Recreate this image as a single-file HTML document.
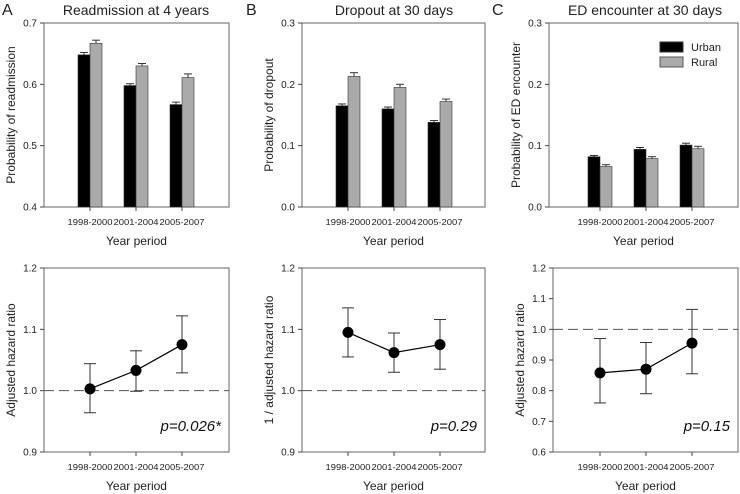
<!DOCTYPE html>
<html><head><meta charset="utf-8"><style>
body{margin:0;background:#fff}
svg{display:block;font-family:"Liberation Sans",Arial,sans-serif}
</style></head><body>
<svg id="chart" width="740" height="494" viewBox="0 0 740 494"></svg>
<script>
const categories = ["1998-2000","2001-2004","2005-2007"];
const aUrban = [0.648,0.598,0.567], aUrbanErr=[0.004,0.003,0.004];
const aRural = [0.667,0.630,0.611], aRuralErr=[0.005,0.004,0.006];
const bUrban = [0.165,0.160,0.138], bUrbanErr=[0.003,0.003,0.003];
const bRural = [0.213,0.195,0.172], bRuralErr=[0.006,0.005,0.004];
const cUrban = [0.082,0.094,0.101], cUrbanErr=[0.002,0.003,0.003];
const cRural = [0.066,0.079,0.095], cRuralErr=[0.003,0.003,0.004];
const aHR=[1.003,1.033,1.075], aLo=[0.964,0.999,1.029], aHi=[1.044,1.065,1.122];
const bHR=[1.095,1.062,1.075], bLo=[1.055,1.030,1.035], bHi=[1.135,1.094,1.116];
const cHR=[0.858,0.870,0.955], cLo=[0.760,0.790,0.855], cHi=[0.970,0.957,1.065];
const aTicks=["0.4","0.5","0.6","0.7"], bTicks=["0.0","0.1","0.2","0.3"], cTicks=["0.0","0.1","0.2","0.3"];
const hrTicksAB=["0.9","1.0","1.1","1.2"], hrTicksC=["0.6","0.7","0.8","0.9","1.0","1.1","1.2"];

const svg=document.getElementById('chart');
const NS='http://www.w3.org/2000/svg';
function el(tag,attrs,parent){const e=document.createElementNS(NS,tag);for(const k in attrs)e.setAttribute(k,attrs[k]);(parent||svg).appendChild(e);return e;}
function txt(x,y,s,size,anchor,parent,extra){const t=el('text',Object.assign({x:x,y:y,'font-size':size,'text-anchor':anchor||'middle',fill:'#222'},extra||{}),parent);t.textContent=s;return t;}

function frame(g,L,R,T,B,ticks,ymin,ymax,ylabel,xpos){
  const ys=v=>B-(v-ymin)/(ymax-ymin)*(B-T);
  el('rect',{x:L,y:T,width:R-L,height:B-T,fill:'none',stroke:'#666','stroke-width':1},g);
  ticks.forEach(t=>{const y=ys(+t);el('line',{x1:L-4,x2:L,y1:y,y2:y,stroke:'#444'},g);
    const lb=txt(L-7,y+3.5,t,10,'end',g);});
  xpos.forEach((x,i)=>{el('line',{x1:x,x2:x,y1:B,y2:B+4,stroke:'#444'},g);
    const lb=txt(x,B+18,categories[i],8.6,'middle',g,{textLength:45,lengthAdjust:'spacingAndGlyphs'});});
  const xt=txt((L+R)/2,B+38,'Year period',12,'middle',g);
  const yt=txt(0,0,ylabel,12,'middle',g,{transform:`translate(${L-29},${(T+B)/2}) rotate(-90)`});
  return ys;
}
function barPanel(name,L,R,ticks,urb,ue,rur,re,ylabel,xpos){
  const g=el('g',{});
  const T=23,B=207,ymin=+ticks[0],ymax=+ticks[ticks.length-1];
  const ys=frame(g,L,R,T,B,ticks,ymin,ymax,ylabel,xpos);
  xpos.forEach((x,i)=>{
    [[urb[i],ue[i],x-12,'#000','bar-urban'],[rur[i],re[i],x,'#aaa','bar-rural']].forEach(([v,e,bx,c,n])=>{
      el('line',{x1:bx+6,x2:bx+6,y1:ys(v),y2:ys(v+e),stroke:'#333'},g);
      el('line',{x1:bx+2,x2:bx+10,y1:ys(v+e),y2:ys(v+e),stroke:'#333'},g);
      const r=el('rect',{x:bx,y:ys(v),width:12,height:B-ys(v),fill:c,stroke:'#333','stroke-width':0.6},g);
      
    });
  });
  return g;
}
function hrPanel(name,L,R,ticks,hr,lo,hi,ylabel,xpos,ptxt){
  const g=el('g',{});
  const T=268,B=452,ymin=+ticks[0],ymax=+ticks[ticks.length-1];
  const ys=frame(g,L,R,T,B,ticks,ymin,ymax,ylabel,xpos);
  const ref=el('line',{x1:L,x2:R,y1:ys(1),y2:ys(1),stroke:'#555','stroke-dasharray':'10,5'},g);
  
  xpos.forEach((x,i)=>{
    el('line',{x1:x,x2:x,y1:ys(lo[i]),y2:ys(hi[i]),stroke:'#333'},g);
    el('line',{x1:x-6,x2:x+6,y1:ys(lo[i]),y2:ys(lo[i]),stroke:'#333'},g);
    el('line',{x1:x-6,x2:x+6,y1:ys(hi[i]),y2:ys(hi[i]),stroke:'#333'},g);
  });
  const ln=el('polyline',{points:xpos.map((x,i)=>x+','+ys(hr[i])).join(' '),fill:'none',stroke:'#000','stroke-width':1.2},g);
  
  xpos.forEach((x,i)=>{const c=el('circle',{cx:x,cy:ys(hr[i]),r:5.5,fill:'#000'},g);});
  const p=txt(R-8,B-21,ptxt,15,'end',g,{'font-style':'italic',fill:'#111'});
}
barPanel('panel-a-bars',44,229,aTicks,aUrban,aUrbanErr,aRural,aRuralErr,'Probability of readmission',[90,136,182]);
barPanel('panel-b-bars',302,485,bTicks,bUrban,bUrbanErr,bRural,bRuralErr,'Probability of dropout',[348,394,440]);
barPanel('panel-c-bars',549,738,cTicks,cUrban,cUrbanErr,cRural,cRuralErr,'Probability of ED encounter',[600,646,692]);
hrPanel('panel-a-hr',44,229,hrTicksAB,aHR,aLo,aHi,'Adjusted hazard ratio',[90,136,182],'p=0.026*');
hrPanel('panel-b-hr',302,485,hrTicksAB,bHR,bLo,bHi,'1 / adjusted hazard ratio',[348,394,440],'p=0.29');
hrPanel('panel-c-hr',553,738,hrTicksC,cHR,cLo,cHi,'Adjusted hazard ratio',[600,646,692],'p=0.15');

[['A',2,'Readmission at 4 years',136],['B',246,'Dropout at 30 days',394],['C',492,'ED encounter at 30 days',645]].forEach(([l,x,t,cx])=>{
  const a=txt(x,15,l,16,'start');
  const b=txt(cx,15,t,14,'middle');
});
const lg=el('g',{});
const r1=el('rect',{x:660,y:42,width:23,height:10,fill:'#000',stroke:'#333'},lg);
const t1=txt(691,51,'Urban',11,'start',lg);
const r2=el('rect',{x:660,y:57,width:23,height:10,fill:'#aaa',stroke:'#555'},lg);
const t2=txt(691,66,'Rural',11,'start',lg);
</script>
</body></html>
